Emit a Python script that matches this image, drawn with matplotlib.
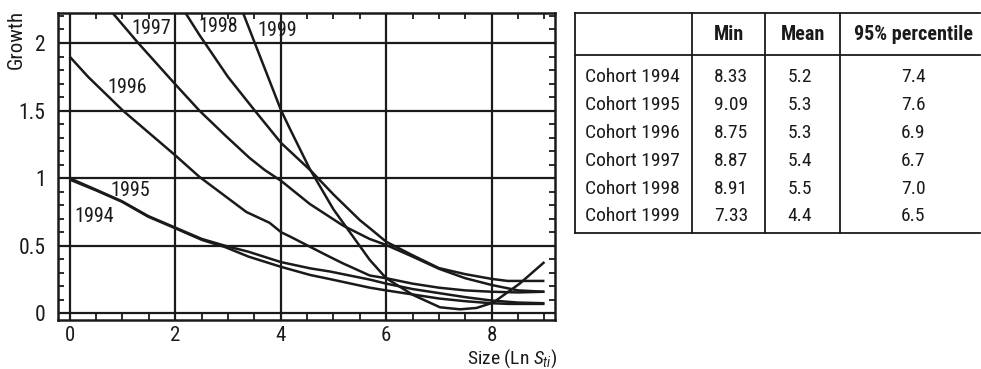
import matplotlib
matplotlib.use("Agg")
import matplotlib.pyplot as plt
from matplotlib.ticker import MultipleLocator
from matplotlib.lines import Line2D

FONT = ['Roboto Condensed', 'Archivo Narrow', 'DejaVu Sans']
plt.rcParams['font.family'] = FONT
plt.rcParams['mathtext.fontset'] = 'custom'
plt.rcParams['mathtext.rm'] = 'Roboto Condensed'
plt.rcParams['mathtext.it'] = 'Roboto Condensed:italic'

# ---- curve data ----
x_1994 = [0, 0.5, 0.99, 1.49, 2.0, 2.51, 2.95, 3.39, 4.0, 4.56, 4.93, 5.69, 6.0, 6.5, 7.0, 7.5, 8.0, 8.33, 9.0]
y_1994 = [0.99, 0.91, 0.826, 0.715, 0.63, 0.543, 0.49, 0.42, 0.345, 0.284, 0.254, 0.19, 0.17, 0.14, 0.11, 0.09, 0.075, 0.07, 0.07]

x_1995 = [0, 0.5, 0.99, 1.49, 2.0, 2.51, 2.95, 3.39, 4.0, 4.56, 4.93, 5.69, 6.0, 6.5, 7.0, 7.5, 8.0, 8.5, 9.0]
y_1995 = [1.0, 0.915, 0.83, 0.72, 0.635, 0.55, 0.5, 0.456, 0.38, 0.333, 0.31, 0.25, 0.22, 0.18, 0.15, 0.12, 0.095, 0.08, 0.075]

x_1996 = [0, 0.35, 1.01, 2.0, 2.46, 2.94, 3.35, 3.79, 4.01, 4.17, 4.52, 4.87, 5.18, 5.69, 6.0, 6.5, 7.0, 7.5, 8.0, 8.5, 9.0]
y_1996 = [1.90, 1.75, 1.50, 1.17, 1.01, 0.87, 0.75, 0.67, 0.60, 0.57, 0.50, 0.43, 0.37, 0.28, 0.26, 0.22, 0.19, 0.17, 0.16, 0.155, 0.16]

x_1997 = [0.82, 1.30, 1.99, 2.46, 2.94, 3.41, 3.70, 4.01, 4.55, 5.18, 5.5, 5.69, 6.0, 6.5, 7.0, 7.5, 8.0, 8.5, 9.0]
y_1997 = [2.22, 2.0, 1.70, 1.50, 1.32, 1.15, 1.06, 0.98, 0.81, 0.65, 0.587, 0.55, 0.506, 0.42, 0.33, 0.26, 0.21, 0.17, 0.16]

x_1998 = [2.2, 2.46, 3.0, 3.51, 4.01, 4.56, 5.0, 5.5, 5.69, 6.0, 6.5, 7.0, 7.5, 8.0, 8.3, 9.0]
y_1998 = [2.22, 2.06, 1.75, 1.50, 1.26, 1.06, 0.88, 0.69, 0.63, 0.53, 0.43, 0.335, 0.29, 0.255, 0.24, 0.24]

x_1999 = [3.29, 3.51, 4.01, 4.17, 4.55, 5.0, 5.69, 6.0, 6.51, 7.02, 7.4, 7.71, 8.03, 8.53, 9.0]
y_1999 = [2.22, 2.0, 1.50, 1.37, 1.07, 0.77, 0.395, 0.26, 0.136, 0.045, 0.03, 0.04, 0.08, 0.22, 0.38]

curve_labels = ['1994', '1995', '1996', '1997', '1998', '1999']
label_x = [0.46, 1.15, 1.09, 1.54, 2.81, 3.93]
label_y = [0.72, 0.912, 1.67, 2.11, 2.12, 2.09]

# ---- table data ----
cohorts = ['Cohort 1994', 'Cohort 1995', 'Cohort 1996', 'Cohort 1997', 'Cohort 1998', 'Cohort 1999']
min_vals = [8.33, 9.09, 8.75, 8.87, 8.91, 7.33]
mean_vals = [5.2, 5.3, 5.3, 5.4, 5.5, 4.4]
p95_vals = [7.4, 7.6, 6.9, 6.7, 7.0, 6.5]
headers = ['Min', 'Mean', '95% percentile']

W, H = 981, 369
fig = plt.figure(figsize=(W / 100, H / 100), dpi=100)
ax = fig.add_axes([58 / W, (H - 320) / H, (555 - 58) / W, (320 - 13) / H])

INK = '#1a1a1a'
series = [(x_1994, y_1994), (x_1995, y_1995), (x_1996, y_1996),
          (x_1997, y_1997), (x_1998, y_1998), (x_1999, y_1999)]
for xs, ys in series:
    ax.plot(xs, ys, color=INK, lw=1.8, solid_capstyle='butt', solid_joinstyle='round', zorder=3)

for t, lx, ly in zip(curve_labels, label_x, label_y):
    ax.text(lx, ly, t, fontsize=14.5, ha='center', va='center', color=INK, zorder=4)

ax.set_xlim(-0.22, 9.2)
ax.set_ylim(-0.049, 2.222)
ax.set_xticks([0, 2, 4, 6, 8])
ax.set_yticks([0, 0.5, 1, 1.5, 2])
ax.set_yticklabels(['0', '0.5', '1', '1.5', '2'])
ax.xaxis.set_minor_locator(MultipleLocator(0.5))
ax.yaxis.set_minor_locator(MultipleLocator(0.1))
ax.tick_params(which='both', direction='in', top=True, right=True, colors=INK, labelsize=15.5)
ax.tick_params(which='major', length=0, pad=9)
ax.tick_params(axis='x', which='major', pad=4, labelsize=15)
ax.tick_params(which='minor', length=4, width=1.3)
ax.grid(True, which='major', color=INK, lw=1.6, zorder=1)
for s in ax.spines.values():
    s.set_linewidth(1.8)
    s.set_color(INK)

fig.text(16 / W, 1 - 39 / H, 'Growth', rotation=90, ha='center', va='center', fontsize=15, color=INK)
fig.text(557 / W, 1 - 364 / H, 'Size (Ln $S_{ti}$)', ha='right', va='baseline', fontsize=14, color=INK)

# ---- table drawn with figure lines/text ----
def fx(px):
    return px / W

def fy(py):
    return 1 - py / H

tl, tr = 575, 980
ttop, thead, tbot = 12.7, 55, 233
col_sep = [691.7, 765, 840]
for yy in [ttop, thead, tbot]:
    fig.add_artist(Line2D([fx(tl), fx(tr)], [fy(yy), fy(yy)], color=INK, lw=1.3))
for xx in [tl] + col_sep:
    fig.add_artist(Line2D([fx(xx), fx(xx)], [fy(ttop), fy(tbot)], color=INK, lw=1.3))

head_centers = [729, 803, 913]
val_centers = [731, 800, 913]
for h, cx in zip(headers, head_centers):
    fig.text(fx(cx), fy(35), h, ha='center', va='center', fontsize=14.5, fontweight='bold', color=INK)

row_y = [77.3, 105.5, 133.3, 161.3, 188.8, 216]
for i, ry in enumerate(row_y):
    fig.text(fx(585), fy(ry), cohorts[i], ha='left', va='center', fontsize=14, color=INK)
    fig.text(fx(val_centers[0]), fy(ry), f'{min_vals[i]:.2f}', ha='center', va='center', fontsize=14, color=INK)
    fig.text(fx(val_centers[1]), fy(ry), f'{mean_vals[i]:.1f}', ha='center', va='center', fontsize=14, color=INK)
    fig.text(fx(val_centers[2]), fy(ry), f'{p95_vals[i]:.1f}', ha='center', va='center', fontsize=14, color=INK)

fig.savefig('out.png', dpi=100, facecolor='white')
